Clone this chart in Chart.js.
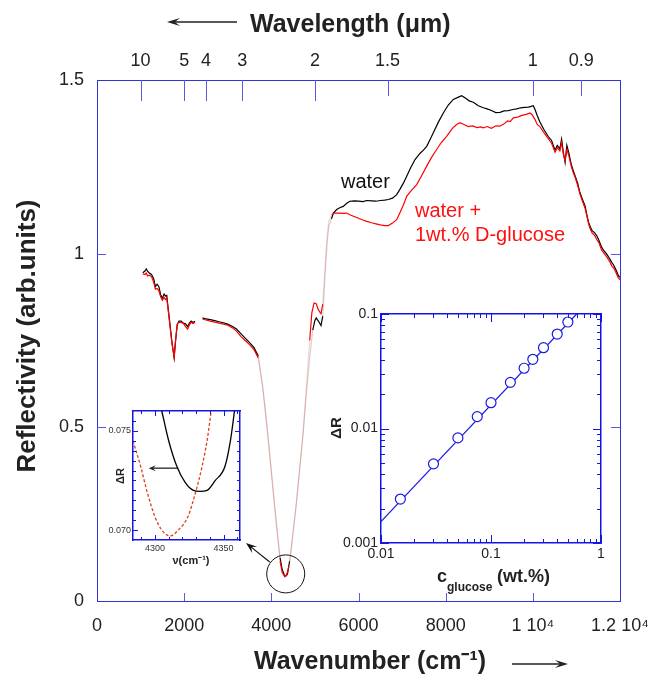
<!DOCTYPE html>
<html><head><meta charset="utf-8">
<script src="https://cdn.jsdelivr.net/npm/chart.js@4.4.1/dist/chart.umd.min.js"></script>
<style>
html,body{margin:0;padding:0;background:#fff;}
#wrap{position:relative;width:652px;height:675px;overflow:hidden;background:#fff;}
canvas{position:absolute;}
</style></head><body>
<div id="wrap">
<canvas id="main" width="652" height="675" style="left:0;top:0"></canvas>
<canvas id="ins1" width="150" height="170" style="left:100px;top:400px"></canvas>
<canvas id="ins2" width="295" height="295" style="left:320px;top:300px"></canvas>
</div>
<script>
// ---------------- main spectrum data ----------------
const waterWn = [1050,1100,1130,1160,1200,1250,1300,1340,1380,1420,1460,1500,1540,1570,1600,1640,1680,1720,1770,1800,1840,1880,1930,1980,2030,2080,2120,2160,2200,2250,2330,
2420,2500,2600,2700,2800,2900,3000,3100,3200,3300,3400,3500,3600,3700,3800,3900,4000,4100,4200,4250,4300,4335,4370,4420,4500,4580,4650,4725,4800,4880,4950,5000,5030,5080,5140,5180,5230,5280,5320,5380,
5422,5500,5580,5651,5730,5805,5900,6000,6100,6188,6300,6400,6500,6600,6684,6780,6877,6950,7030,7106,7200,7297,7420,7490,7565,7640,7717,7830,7946,8060,8175,8280,8368,8450,8540,8634,8750,8864,8950,9050,9150,9247,9340,9440,9540,9630,9720,9810,9900,9960,10010,
10050,10100,10160,10250,10350,10430,10510,10560,10620,10660,10700,10740,10780,10830,10880,10930,10970,11030,11080,11140,11200,11240,11280,11320,11360,11420,11470,11520,11580,11640,11700,11760,11810,11860,11920,11960,12000];
const waterR = [0.945,0.950,0.956,0.950,0.944,0.940,0.928,0.905,0.912,0.905,0.882,0.872,0.884,0.878,0.880,0.835,0.790,0.745,0.700,0.745,0.795,0.806,0.806,0.800,0.798,0.790,0.800,0.806,0.802,0.805,null,
0.815,0.812,0.810,0.807,0.804,0.801,0.797,0.791,0.783,0.770,0.757,0.744,0.730,0.705,0.620,0.505,0.375,0.245,0.125,0.090,0.074,0.072,0.077,0.115,0.200,0.288,0.380,0.475,0.590,0.700,0.780,0.808,0.815,0.806,0.793,0.820,0.930,1.030,1.080,1.100,
1.117,1.127,1.133,1.136,1.145,1.151,1.152,1.151,1.150,1.153,1.152,1.151,1.153,1.154,1.156,1.160,1.170,1.185,1.203,1.223,1.248,1.271,1.290,1.298,1.309,1.328,1.348,1.378,1.405,1.428,1.444,1.450,1.455,1.448,1.440,1.436,1.426,1.420,1.417,1.412,1.406,1.407,1.411,1.412,1.415,1.417,1.420,1.421,1.422,1.424,1.426,
1.415,1.398,1.380,1.358,1.338,1.326,1.298,1.312,1.302,1.330,1.292,1.263,1.312,1.288,1.258,1.238,1.224,1.202,1.176,1.156,1.137,1.112,1.090,1.077,1.066,1.060,1.051,1.037,1.018,1.007,0.998,0.986,0.975,0.966,0.950,0.937,0.932];

const glucoseWn = [1050,1100,1130,1160,1200,1250,1300,1340,1380,1420,1460,1500,1540,1570,1600,1640,1680,1720,1770,1800,1840,1880,1930,1980,2030,2080,2120,2160,2200,2250,2330,
2420,2500,2600,2700,2800,2900,3000,3100,3200,3300,3400,3500,3600,3700,3800,3900,4000,4100,4200,4250,4310,4350,4400,4450,4500,4580,4650,4725,4800,4880,4930,4980,5030,5080,5140,5180,5230,5280,5320,5385,
5460,5550,5650,5729,5800,5900,6000,6100,6188,6300,6400,6500,6600,6684,6780,6877,6950,7030,7106,7200,7336,7450,7565,7680,7794,7900,8023,8150,8250,8329,8420,8520,8620,8720,8800,8864,8950,9050,9150,9247,9330,9420,9480,9553,9650,9750,9850,9935,9985,
10050,10100,10160,10250,10350,10430,10510,10560,10620,10660,10700,10740,10780,10830,10880,10930,10970,11030,11080,11140,11200,11240,11280,11320,11360,11420,11470,11520,11580,11640,11700,11760,11810,11860,11920,11960,12000];
const glucoseR = [0.942,0.940,0.944,0.936,0.938,0.934,0.918,0.898,0.900,0.893,0.876,0.866,0.874,0.868,0.872,0.830,0.786,0.742,0.702,0.748,0.797,0.803,0.802,0.800,0.790,0.783,0.795,0.803,0.799,0.802,null,
0.812,0.809,0.806,0.803,0.800,0.797,0.794,0.787,0.777,0.762,0.750,0.738,0.724,0.700,0.615,0.500,0.368,0.238,0.115,0.082,0.070,0.075,0.098,0.140,0.195,0.288,0.380,0.480,0.610,0.750,0.830,0.858,0.856,0.838,0.827,0.855,0.960,1.050,1.095,1.112,
1.117,1.117,1.116,1.117,1.112,1.107,1.102,1.097,1.093,1.089,1.086,1.083,1.081,1.081,1.088,1.098,1.118,1.140,1.165,1.180,1.199,1.225,1.252,1.278,1.300,1.320,1.338,1.360,1.372,1.377,1.372,1.366,1.368,1.363,1.365,1.362,1.366,1.361,1.368,1.367,1.373,1.382,1.380,1.391,1.393,1.398,1.401,1.405,1.400,
1.386,1.372,1.366,1.349,1.332,1.318,1.292,1.305,1.296,1.320,1.286,1.268,1.300,1.280,1.252,1.232,1.220,1.196,1.172,1.150,1.130,1.108,1.085,1.070,1.060,1.052,1.040,1.030,1.010,1.000,0.990,0.978,0.965,0.958,0.942,0.930,0.925];

const wnTickValues = [0,2000,4000,6000,8000,10000,12000];
const wnTickLabels = ['0','2000','4000','6000','8000','1 10\u2074','1.2 10\u2074'];
const reflTickValues = [0,0.5,1,1.5];
const reflTickLabels = ['0','0.5','1','1.5'];
const wavelengthTicks = [10,5,4,3,2,1.5,1,0.9];            // micrometres
const wavelengthLabels = ['10','5','4','3','2','1.5','1','0.9'];

// ---------------- inset 1 (zoom on the minimum) ----------------
const zoomWaterWn = [4305,4310,4316,4322,4328,4333,4338,4344,4351,4355,4358];
const zoomWaterR  = [0.0760,0.0745,0.0732,0.0724,0.0720,0.07195,0.0720,0.0725,0.0732,0.0745,0.0760];
const zoomGlucoseWn = [4284,4290,4294,4300,4305,4311,4317,4324,4330,4334,4338,4341];
const zoomGlucoseR  = [0.0745,0.0731,0.0720,0.07067,0.0700,0.0697,0.0700,0.07067,0.0720,0.0731,0.0745,0.0760];
const zoomXTicks = [4290,4300,4310,4320,4330,4340,4350,4360];
const zoomXLabelValues = [4300,4350];
const zoomXLabels = ['4300','4350'];
const zoomYTicks = [0.0700,0.0705,0.0710,0.0715,0.0720,0.0725,0.0730,0.0735,0.0740,0.0745,0.0750,0.0755];
const zoomYLabelValues = [0.070,0.075];
const zoomYLabels = ['0.070','0.075'];

// ---------------- inset 2 (dR vs concentration) ----------------
const concentration = [0.015,0.03,0.05,0.075,0.1,0.15,0.2,0.24,0.3,0.4,0.5];
const deltaR = [0.00242,0.00491,0.00828,0.0127,0.0168,0.0253,0.0336,0.0402,0.0508,0.0668,0.0851];
const fitConcentration = [0.01,0.6];
const fitDeltaR = [0.00154,0.1];
const concDecades = [0.01,0.1,1];
const concLabels = ['0.01','0.1','1'];
const drDecades = [0.001,0.01,0.1];
const drLabels = ['0.001','0.01','0.1'];
const logMultipliers = [1,2,3,4,5,6,7,8,9];

// ---------------- helpers ----------------
const FONT = '"Liberation Sans", Arial, Helvetica, sans-serif';
Chart.defaults.font.family = FONT;
const FRAME = '#3434d6';
const TICKC = '#5a5ae0';
const IFRAME = '#1414e6';

function pts(xs, ys){ return xs.map((x,i)=>({x:x, y:ys[i]})); }
function near(v, arr){ return arr.findIndex(a => Math.abs(a - v) <= Math.abs(a)*1e-6 + 1e-12); }
function logTicks(decades){
  const out=[];
  decades.forEach((d,k)=>{ logMultipliers.forEach(m=>{ if(k===decades.length-1 && m>1) return; out.push(d*m); }); });
  return out;
}
function fixX(h){ return s=>{ s.height=h; s.paddingLeft=0; s.paddingRight=0; }; }
function fixY(w){ return s=>{ s.width=w; s.paddingTop=0; s.paddingBottom=0; }; }

function inwardTicks(spec){
  return {
    id:'inwardTicks',
    afterDatasetsDraw(chart){
      const ctx=chart.ctx, a=chart.chartArea;
      ctx.save(); ctx.lineWidth=spec.width; ctx.strokeStyle=spec.color;
      Object.keys(spec.scales).forEach(id=>{
        const s=chart.scales[id]; const fn=spec.scales[id];
        s.ticks.forEach((t,i)=>{
          const len=fn(t.value,i); if(!len) return;
          let p=s.getPixelForValue(t.value); p=Math.round(p)+0.5;
          ctx.beginPath();
          if(s.position==='bottom'){ctx.moveTo(p,a.bottom);ctx.lineTo(p,a.bottom-len);}
          else if(s.position==='top'){ctx.moveTo(p,a.top);ctx.lineTo(p,a.top+len);}
          else if(s.position==='left'){ctx.moveTo(a.left,p);ctx.lineTo(a.left+len,p);}
          else {ctx.moveTo(a.right,p);ctx.lineTo(a.right-len,p);}
          ctx.stroke();
        });
      });
      ctx.restore();
    }
  };
}

function arrow(ctx,x1,y1,x2,y2,hl,hw,width){
  ctx.save(); ctx.lineWidth=width;
  const ang=Math.atan2(y2-y1,x2-x1), c=Math.cos(ang), s=Math.sin(ang);
  ctx.beginPath(); ctx.moveTo(x1,y1); ctx.lineTo(x2-hl*0.6*c,y2-hl*0.6*s); ctx.stroke();
  ctx.beginPath();
  ctx.moveTo(x2,y2);
  ctx.lineTo(x2-hl*c+hw*s, y2-hl*s-hw*c);
  ctx.lineTo(x2-hl*0.6*c, y2-hl*0.6*s);
  ctx.lineTo(x2-hl*c-hw*s, y2-hl*s+hw*c);
  ctx.closePath(); ctx.fill();
  ctx.restore();
}

function faint(ctx){
  const x0=ctx.p0.parsed.x, x1=ctx.p1.parsed.x, y0=ctx.p0.parsed.y, y1=ctx.p1.parsed.y;
  if(x0>=3700 && x1<=5010 && Math.min(y0,y1)>0.092 && Math.max(y0,y1)<0.80) return true;
  if(x0>=5175 && x1<=5390) return true;
  return false;
}

const tickFont = {family:FONT,size:18};
const noGrid = {display:false, drawTicks:false};

// ---------------- main chart ----------------
new Chart(document.getElementById('main'), {
  type:'line',
  data:{datasets:[
    {label:'water + 1wt.% D-glucose', data:pts(glucoseWn,glucoseR), borderColor:'#ff0000', borderWidth:1.2, pointRadius:0, spanGaps:false,
     segment:{borderColor:c=>faint(c)?'rgba(255,40,40,0.22)':undefined}},
    {label:'water', data:pts(waterWn,waterR), borderColor:'#000000', borderWidth:1.2, pointRadius:0, spanGaps:false,
     segment:{borderColor:c=>faint(c)?'rgba(0,0,0,0.18)':undefined}}
  ]},
  options:{
    responsive:false, animation:false, devicePixelRatio:1,
    layout:{padding:0},
    plugins:{legend:{display:false}, tooltip:{enabled:false}},
    elements:{line:{tension:0}, point:{radius:0}},
    scales:{
      x:{type:'linear', position:'bottom', min:0, max:12000,
         afterFit:fixX(74),
         afterBuildTicks:s=>{s.ticks=wnTickValues.map(v=>({value:v}));},
         ticks:{autoSkip:false, maxRotation:0, padding:14, color:'#222', font:tickFont, callback:(v,i)=>wnTickLabels[i]},
         grid:noGrid, border:{display:true,color:FRAME,width:1}},
      x2:{type:'linear', position:'top', min:0, max:12000,
         afterFit:fixX(80),
         afterBuildTicks:s=>{s.ticks=wavelengthTicks.map(l=>({value:10000/l}));},
         ticks:{autoSkip:false, maxRotation:0, padding:8, color:'#222', font:tickFont, callback:(v,i)=>wavelengthLabels[i]},
         grid:noGrid, border:{display:true,color:FRAME,width:1}},
      y:{type:'linear', position:'left', min:0, max:1.5,
         afterFit:fixY(97),
         afterBuildTicks:s=>{s.ticks=reflTickValues.map(v=>({value:v}));},
         ticks:{padding:13, color:'#222', font:tickFont, callback:(v,i)=>reflTickLabels[i]},
         grid:noGrid, border:{display:true,color:FRAME,width:1}},
      y2:{type:'linear', position:'right', min:0, max:1.5,
         afterFit:fixY(32),
         afterBuildTicks:s=>{s.ticks=reflTickValues.map(v=>({value:v}));},
         ticks:{display:false},
         grid:noGrid, border:{display:true,color:FRAME,width:1}}
    }
  },
  plugins:[
    inwardTicks({width:1, color:TICKC, scales:{
      x:(v)=> (v>0 && v<12000) ? 8 : 0,
      x2:(v)=> v<6000 ? 21 : 16,
      y:(v)=> (v>0 && v<1.5) ? 9 : 0,
      y2:(v)=> (v>0 && v<1.5) ? 9 : 0
    }}),
    {id:'mainText', afterDraw(chart){
      const ctx=chart.ctx, sx=chart.scales.x, sy=chart.scales.y;
      ctx.save();
      ctx.fillStyle='#222'; ctx.strokeStyle='#222';
      ctx.font='bold 25px '+FONT; ctx.textAlign='left'; ctx.textBaseline='alphabetic';
      ctx.fillText('Wavelength (\u03bcm)', 250, 32);
      arrow(ctx, 237, 22, 167, 22, 13, 4, 1.3);
      ctx.fillText('Wavenumber (cm\u207b\u00b9)', 254, 669);
      arrow(ctx, 512, 664, 568, 664, 13, 4, 1.3);
      ctx.save(); ctx.translate(35, 336); ctx.rotate(-Math.PI/2);
      ctx.font='bold 26px '+FONT; ctx.textAlign='center';
      ctx.fillText('Reflectivity (arb.units)', 0, 0);
      ctx.restore();
      ctx.font='20px '+FONT; ctx.fillStyle='#111';
      ctx.fillText('water', 341, 188);
      ctx.fillStyle='#ff1010';
      ctx.fillText('water +', 415, 217);
      ctx.fillText('1wt.% D-glucose', 415, 241);
      ctx.strokeStyle='#111'; ctx.fillStyle='#111'; ctx.lineWidth=1;
      const cx=sx.getPixelForValue(4330), cy=sy.getPixelForValue(0.078);
      ctx.beginPath(); ctx.arc(cx,cy,19,0,Math.PI*2); ctx.stroke();
      arrow(ctx, cx-16, cy-12, 246, 543, 11, 4, 1.2);
      ctx.restore();
    }}
  ]
});

// ---------------- inset 1 ----------------
new Chart(document.getElementById('ins1'), {
  type:'line',
  data:{datasets:[
    {label:'water', data:pts(zoomWaterWn,zoomWaterR), borderColor:'#000', borderWidth:1.3, pointRadius:0, cubicInterpolationMode:'monotone'},
    {label:'glucose', data:pts(zoomGlucoseWn,zoomGlucoseR), borderColor:'#e0401e', borderWidth:1.3, borderDash:[3,2], pointRadius:0, cubicInterpolationMode:'monotone'}
  ]},
  options:{
    responsive:false, animation:false, devicePixelRatio:1, layout:{padding:0},
    plugins:{legend:{display:false}, tooltip:{enabled:false}},
    scales:{
      x:{type:'linear', position:'bottom', min:4284, max:4362, afterFit:fixX(30),
         afterBuildTicks:s=>{s.ticks=zoomXTicks.map(v=>({value:v}));},
         ticks:{autoSkip:false, maxRotation:0, padding:3, color:'#333', font:{family:FONT,size:9},
                callback:(v)=>{const k=near(v,zoomXLabelValues); return k>=0?zoomXLabels[k]:'';}},
         grid:noGrid, border:{display:true,color:IFRAME,width:1.5}},
      x2:{type:'linear', position:'top', min:4284, max:4362, afterFit:fixX(11),
         afterBuildTicks:s=>{s.ticks=zoomXTicks.map(v=>({value:v}));},
         ticks:{display:false}, grid:noGrid, border:{display:true,color:IFRAME,width:1.5}},
      y:{type:'linear', position:'left', min:0.0695, max:0.076, afterFit:fixY(33),
         afterBuildTicks:s=>{s.ticks=zoomYTicks.map(v=>({value:v}));},
         ticks:{autoSkip:false, padding:2, color:'#333', font:{family:FONT,size:9},
                callback:(v)=>{const k=near(v,zoomYLabelValues); return k>=0?zoomYLabels[k]:'';}},
         grid:noGrid, border:{display:true,color:IFRAME,width:1.5}},
      y2:{type:'linear', position:'right', min:0.0695, max:0.076, afterFit:fixY(10),
         afterBuildTicks:s=>{s.ticks=zoomYTicks.map(v=>({value:v}));},
         ticks:{display:false}, grid:noGrid, border:{display:true,color:IFRAME,width:1.5}}
    }
  },
  plugins:[
    inwardTicks({width:1, color:IFRAME, scales:{
      x:(v)=> near(v,zoomXLabelValues)>=0?5:3,
      x2:(v)=> near(v,zoomXLabelValues)>=0?5:3,
      y:(v)=> near(v,zoomYLabelValues)>=0?5:3,
      y2:(v)=> near(v,zoomYLabelValues)>=0?5:3
    }}),
    {id:'ins1Text', afterDraw(chart){
      const ctx=chart.ctx, sx=chart.scales.x, sy=chart.scales.y;
      ctx.save(); ctx.fillStyle='#222'; ctx.strokeStyle='#111';
      ctx.font='bold 11px '+FONT; ctx.textAlign='center';
      ctx.fillText('\u03bd(cm\u207b\u00b9)', 91, 164);
      ctx.save(); ctx.translate(24, 76); ctx.rotate(-Math.PI/2);
      ctx.font='bold 11px '+FONT; ctx.fillText('\u0394R', 0, 0); ctx.restore();
      const y=sy.getPixelForValue(0.07312);
      arrow(ctx, sx.getPixelForValue(4317), y, sx.getPixelForValue(4295.5), y, 7, 3, 1.2);
      ctx.restore();
    }}
  ]
});

// ---------------- inset 2 ----------------
new Chart(document.getElementById('ins2'), {
  type:'line',
  data:{datasets:[
    {label:'measured', data:pts(concentration,deltaR), showLine:false, pointRadius:5, pointBorderWidth:1.2,
     pointBorderColor:'#1a1ae0', pointBackgroundColor:'#ffffff', borderColor:'#1a1ae0'},
    {label:'fit', data:pts(fitConcentration,fitDeltaR), borderColor:'#1a1ae0', borderWidth:1.2, pointRadius:0}
  ]},
  options:{
    responsive:false, animation:false, devicePixelRatio:1, layout:{padding:0},
    plugins:{legend:{display:false}, tooltip:{enabled:false}},
    scales:{
      x:{type:'logarithmic', position:'bottom', min:0.01, max:1, afterFit:fixX(52),
         afterBuildTicks:s=>{s.ticks=logTicks(concDecades).map(v=>({value:v}));},
         ticks:{autoSkip:false, maxRotation:0, padding:3, color:'#222', font:{family:FONT,size:14},
                callback:(v)=>{const k=near(v,concDecades); return k>=0?concLabels[k]:'';}},
         grid:noGrid, border:{display:true,color:IFRAME,width:1.5}},
      x2:{type:'logarithmic', position:'top', min:0.01, max:1, afterFit:fixX(14),
         afterBuildTicks:s=>{s.ticks=logTicks(concDecades).map(v=>({value:v}));},
         ticks:{display:false}, grid:noGrid, border:{display:true,color:IFRAME,width:1.5}},
      y:{type:'logarithmic', position:'left', min:0.001, max:0.1, afterFit:fixY(61),
         afterBuildTicks:s=>{s.ticks=logTicks(drDecades).map(v=>({value:v}));},
         ticks:{autoSkip:false, padding:3, color:'#222', font:{family:FONT,size:14},
                callback:(v)=>{const k=near(v,drDecades); return k>=0?drLabels[k]:'';}},
         grid:noGrid, border:{display:true,color:IFRAME,width:1.5}},
      y2:{type:'logarithmic', position:'right', min:0.001, max:0.1, afterFit:fixY(14),
         afterBuildTicks:s=>{s.ticks=logTicks(drDecades).map(v=>({value:v}));},
         ticks:{display:false}, grid:noGrid, border:{display:true,color:IFRAME,width:1.5}}
    }
  },
  plugins:[
    inwardTicks({width:1, color:IFRAME, scales:{
      x:(v)=> near(v,concDecades)>=0?8:4,
      x2:(v)=> near(v,concDecades)>=0?8:4,
      y:(v)=> near(v,drDecades)>=0?8:4,
      y2:(v)=> near(v,drDecades)>=0?8:4
    }}),
    {id:'ins2Text', afterDraw(chart){
      const ctx=chart.ctx;
      ctx.save(); ctx.fillStyle='#222';
      ctx.save(); ctx.translate(21, 128); ctx.rotate(-Math.PI/2);
      ctx.font='bold 15px '+FONT; ctx.textAlign='center'; ctx.fillText('\u0394R',0,0); ctx.restore();
      ctx.textAlign='left';
      ctx.font='bold 18px '+FONT; ctx.fillText('c', 117, 282);
      ctx.font='bold 12px '+FONT; ctx.fillText('glucose', 127, 291);
      ctx.font='bold 18px '+FONT; ctx.fillText('(wt.%)', 177, 282);
      ctx.restore();
    }}
  ]
});
</script>
</body></html>
